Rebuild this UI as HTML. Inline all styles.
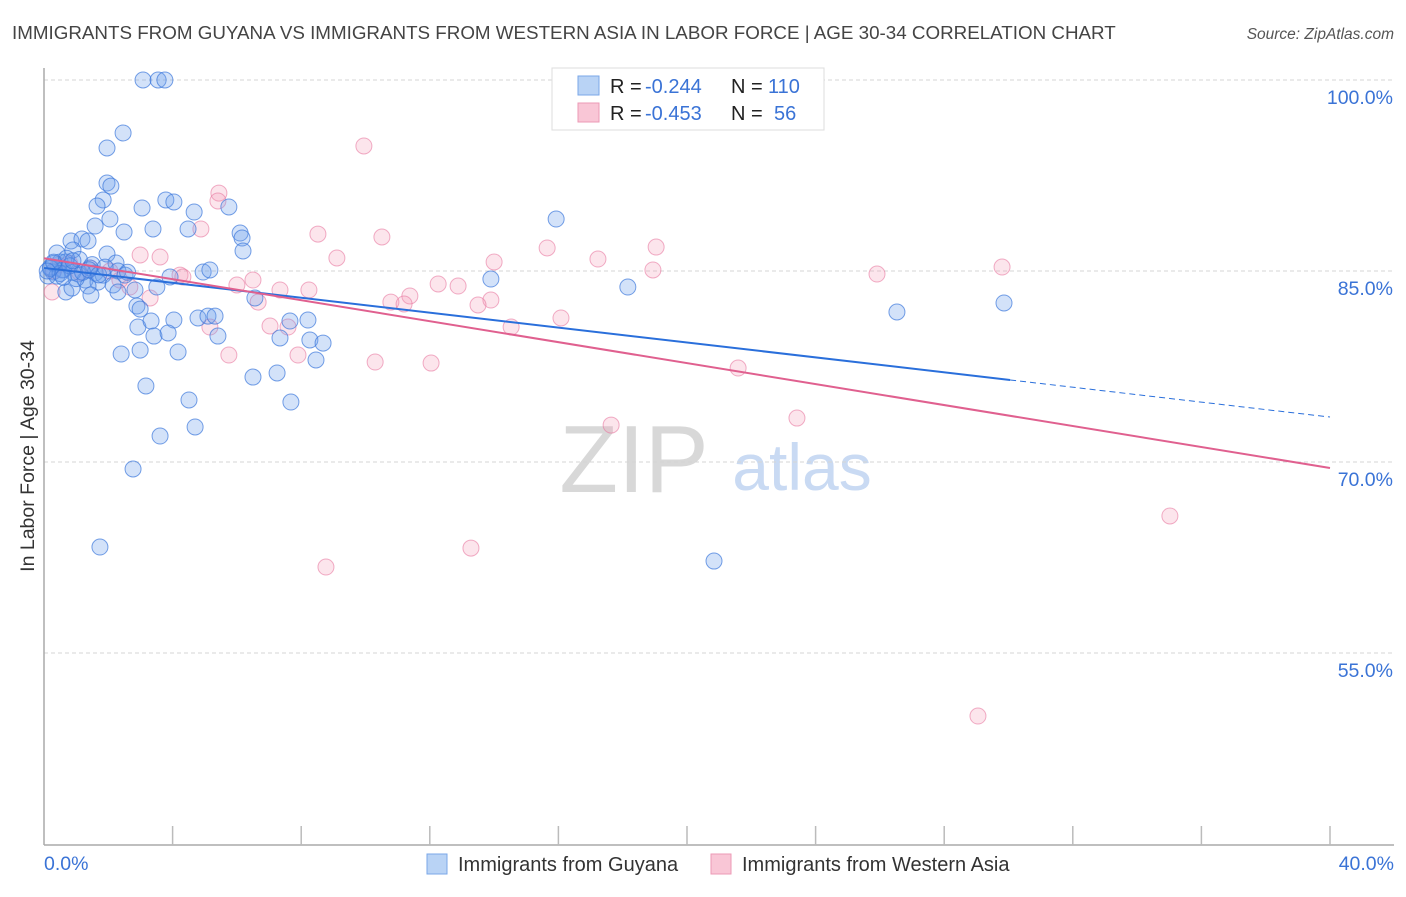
<!DOCTYPE html>
<html><head><meta charset="utf-8"><style>
body{margin:0;background:#fff;width:1406px;height:892px;overflow:hidden;font-family:"Liberation Sans",sans-serif}
svg text{font-family:"Liberation Sans",sans-serif}
</style></head><body>
<svg id="chart" width="1406" height="892" xmlns="http://www.w3.org/2000/svg">
<text x="12" y="39" font-size="18.8" fill="#444">IMMIGRANTS FROM GUYANA VS IMMIGRANTS FROM WESTERN ASIA IN LABOR FORCE | AGE 30-34 CORRELATION CHART</text>
<text x="1394" y="39" font-size="15.5" fill="#555" font-style="italic" text-anchor="end">Source: ZipAtlas.com</text>
<text transform="translate(34,456) rotate(-90)" font-size="19.5" fill="#333" text-anchor="middle">In Labor Force | Age 30-34</text>
<g>
<text x="634" y="492" font-size="96" fill="#d8d8d8" font-family="Liberation Serif, serif" text-anchor="middle">ZIP</text>
<text x="802" y="490" font-size="66" fill="#c9daf3" text-anchor="middle">atlas</text>
</g>
<g id="grid"></g><g id="axes"></g><g id="pts"></g><g id="lines"></g>
<g>
<rect x="552" y="68" width="272" height="62" fill="#fff" stroke="#ddd"/>
<rect x="578" y="76" width="21" height="19" fill="#b9d3f5" stroke="#7aa7e8"/>
<rect x="578" y="103" width="21" height="19" fill="#f9c6d6" stroke="#ec9ab6"/>
<text x="610" y="93" font-size="20" fill="#222">R =</text>
<text x="645" y="93" font-size="20" fill="#3a73d6">-0.244</text>
<text x="731" y="93" font-size="20" fill="#222">N =</text>
<text x="768" y="93" font-size="20" fill="#3a73d6">110</text>
<text x="610" y="120" font-size="20" fill="#222">R =</text>
<text x="645" y="120" font-size="20" fill="#3a73d6">-0.453</text>
<text x="731" y="120" font-size="20" fill="#222">N =</text>
<text x="774" y="120" font-size="20" fill="#3a73d6">56</text>
</g>
<g>
<rect x="427" y="854" width="20" height="20" fill="#b9d3f5" stroke="#7aa7e8"/>
<text x="458" y="871" font-size="20" fill="#333">Immigrants from Guyana</text>
<rect x="711" y="854" width="20" height="20" fill="#f9c6d6" stroke="#ec9ab6"/>
<text x="742" y="871" font-size="20" fill="#333">Immigrants from Western Asia</text>
</g>
</svg>
<script>
const yTicks=[55,70,85,100];
const xTickLabels=["0.0%","40.0%"];
const blueX=[3.08,3.55,3.76,2.46,1.96,1.96,2.08,1.84,1.65,2.05,3.05,3.79,4.04,4.67,5.75,1.59,2.49,3.39,4.48,0.84,1.18,1.37,0.90,0.40,1.96,2.24,0.50,0.68,0.56,0.28,0.12,1.06,1.43,1.59,1.84,2.30,2.52,1.28,1.68,2.15,0.68,0.87,1.37,1.46,2.30,2.83,3.51,3.92,4.95,5.16,6.10,6.16,6.19,15.93,13.90,18.16,6.56,2.89,2.99,2.92,3.33,4.04,4.79,5.10,5.32,7.65,8.21,7.34,8.27,8.68,5.41,3.42,3.86,2.40,2.99,4.17,8.46,6.50,7.25,3.17,4.51,7.68,4.70,3.61,2.77,1.74,20.84,26.53,29.86,0.2,0.3,0.6,0.9,1.1,0.4,0.7,1.5,1.0,0.2,0.5,0.8,1.2,0.3,0.6,1.4,0.9,1.7,0.1,2.6,1.9];
const blueY=[100,100,100,95.84,94.66,91.91,91.67,90.58,90.10,89.08,89.95,90.58,90.42,89.63,90.03,88.53,88.06,88.30,88.30,87.36,87.51,87.36,86.65,86.41,86.33,85.63,85.71,85.71,85.08,84.92,84.61,84.76,85.24,84.84,84.68,85.00,84.68,84.29,84.13,83.90,83.35,83.66,83.82,83.11,83.35,83.51,83.74,84.53,84.92,85.08,87.98,87.59,86.57,89.08,84.37,83.74,82.88,82.25,82.01,80.60,81.07,81.15,81.31,81.46,81.46,81.07,81.15,79.74,79.58,79.34,79.89,79.89,80.13,78.48,78.79,78.64,78.01,76.67,76.99,75.97,74.87,74.71,72.75,72.04,69.45,63.32,62.22,81.78,82.49,85.3,85.6,85.1,84.9,85.9,84.6,86.0,85.5,84.4,85.2,84.8,85.4,84.9,85.7,84.5,85.1,85.8,84.7,85.0,84.9,85.3];
const pinkX=[9.95,5.44,5.41,4.88,8.52,10.51,2.99,3.61,9.11,15.65,19.04,17.23,14.00,18.94,25.91,29.80,0.44,1.43,2.05,4.23,4.32,6.50,6.00,7.34,8.24,12.26,12.88,11.38,10.79,11.20,13.90,13.50,6.66,3.30,0.25,5.16,7.03,7.59,16.08,14.53,5.75,7.90,10.30,12.04,21.59,23.42,17.64,35.02,13.28,8.77,29.05,2.67,2.36,0.3,0.8,1.1];
const pinkY=[94.82,91.12,90.50,88.30,87.90,87.67,86.26,86.10,86.02,86.81,86.88,85.94,85.71,85.08,84.76,85.31,85.47,85.24,85.00,84.68,84.53,84.29,83.90,83.51,83.51,83.98,83.82,83.04,82.56,82.41,82.72,82.33,82.56,82.88,83.35,80.60,80.68,80.60,81.31,80.60,78.40,78.40,77.85,77.77,77.38,73.45,72.90,65.76,63.24,61.75,50.05,83.74,84.29,85.0,85.6,84.9];
const blueTrend=[85.24,73.53]; const blueSolidEnd=30.05;
const pinkTrend=[86.0,69.53];
const NS="http://www.w3.org/2000/svg";
const sx=v=>44+v*32.15, sy=v=>80+(100-v)*12.733;
function mk(tag,attrs,parent){const e=document.createElementNS(NS,tag);for(const k in attrs)e.setAttribute(k,attrs[k]);document.getElementById(parent).appendChild(e);return e;}
yTicks.forEach(t=>{
 const l=mk('line',{x1:44,x2:1394,y1:sy(t),y2:sy(t),stroke:'#d5d5d5','stroke-dasharray':'4,3'},'grid');
 
 
 const tx=mk('text',{x:1393,y:sy(t)+24,'font-size':19.5,fill:'#3a73d6','text-anchor':'end'},'grid');
 tx.textContent=t.toFixed(1)+'%';
 
 
});
const ax=mk('line',{x1:44,x2:44,y1:68,y2:845,stroke:'#aaa','stroke-width':1.5},'axes');


const bx=mk('line',{x1:44,x2:1394,y1:845,y2:845,stroke:'#aaa','stroke-width':1.5},'axes');


for(let i=1;i<=10;i++){const t=mk('line',{x1:sx(i*4),x2:sx(i*4),y1:826,y2:845,stroke:'#bbb','stroke-width':1.5},'axes');
 
 }
const xl0=mk('text',{x:44,y:870,'font-size':19.5,fill:'#3a73d6'},'axes');xl0.textContent=xTickLabels[0];


const xl1=mk('text',{x:1394,y:870,'font-size':19.5,fill:'#3a73d6','text-anchor':'end'},'axes');xl1.textContent=xTickLabels[1];


pinkX.forEach((x,i)=>{const c=mk('circle',{cx:sx(x),cy:sy(pinkY[i]),r:8,fill:'rgba(244,150,180,0.25)',stroke:'rgba(232,120,160,0.6)','stroke-width':1},'pts');
 
 });
blueX.forEach((x,i)=>{const c=mk('circle',{cx:sx(x),cy:sy(blueY[i]),r:8,fill:'rgba(110,160,235,0.3)',stroke:'rgba(60,120,220,0.7)','stroke-width':1},'pts');
 
 });
const by=x=>blueTrend[0]+(blueTrend[1]-blueTrend[0])*x/40;
const l1=mk('line',{x1:sx(0),y1:sy(blueTrend[0]),x2:sx(blueSolidEnd),y2:sy(by(blueSolidEnd)),stroke:'#2a6fdb','stroke-width':2},'lines');


const l2=mk('line',{x1:sx(blueSolidEnd),y1:sy(by(blueSolidEnd)),x2:sx(40),y2:sy(blueTrend[1]),stroke:'#2a6fdb','stroke-width':1,'stroke-dasharray':'6,4'},'lines');


const l3=mk('line',{x1:sx(0),y1:sy(pinkTrend[0]),x2:sx(40),y2:sy(pinkTrend[1]),stroke:'#e0608f','stroke-width':2},'lines');


</script>
</body></html>
